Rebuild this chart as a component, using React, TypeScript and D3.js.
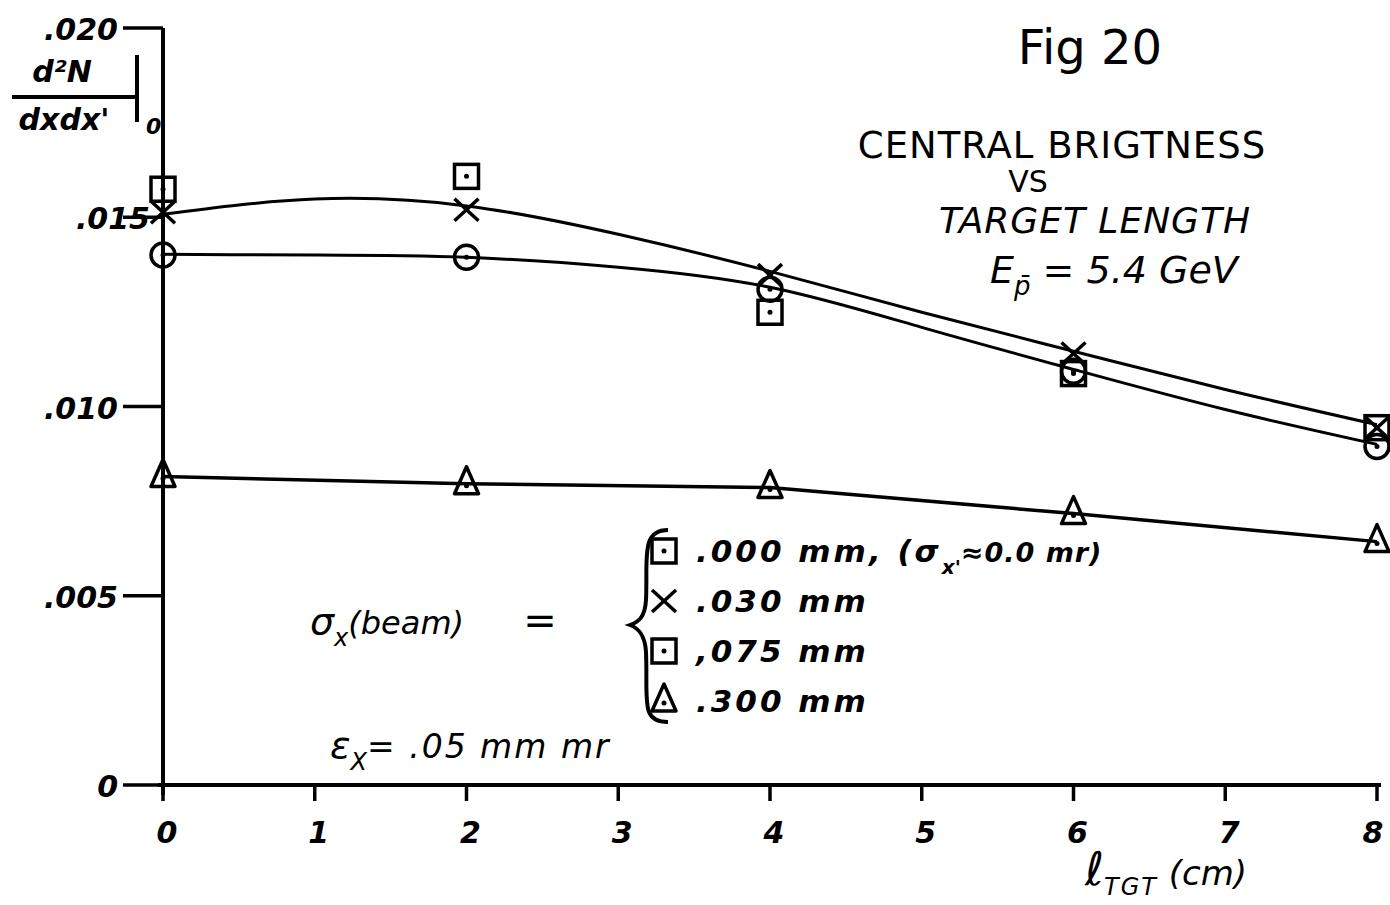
import * as d3 from "d3";

// x positions (target length, cm)
const lengths = [0, 2, 4, 6, 8];

// measured points per beam size
const circleVals = [0.0140, 0.01394, 0.0131, 0.01093, 0.00894]; // .000 mm
const crossVals = [0.01513, 0.0152, 0.01347, 0.0114, 0.00944]; // .030 mm
const squareVals = [0.01574, 0.01608, 0.01249, 0.01087, 0.00944]; // .075 mm
const triVals = [0.00815, 0.00796, 0.00786, 0.00717, 0.00643]; // .300 mm

// hand drawn fit curves, read at each cm
const fitX = [0, 1, 2, 3, 4, 5, 6, 7, 8];
const fitUpper = [0.01508, 0.01548, 0.0153, 0.01455, 0.01357, 0.01249, 0.01146, 0.01045, 0.00952];
const fitLower = [0.01402, 0.0140, 0.01394, 0.01368, 0.01315, 0.01209, 0.01098, 0.00992, 0.0090];

const xTicks = [0, 1, 2, 3, 4, 5, 6, 7, 8];
const yTicks = [0, 0.005, 0.01, 0.015, 0.02];
const yTickLabels = ["0", ".005", ".010", ".015", ".020"];

const legendItems = [
  { sym: "square", text: ".000  mm, (σ", sub: "x'", rest: "≈0.0 mr)" },
  { sym: "cross", text: ".030  mm", sub: "", rest: "" },
  { sym: "square", text: ",075  mm", sub: "", rest: "" },
  { sym: "tri", text: ".300  mm", sub: "", rest: "" },
];

const W = 1390;
const H = 905;
const ink = "#000";
const font = "'DejaVu Sans', sans-serif";

function Marker({ type, cx, cy }: { type: string; cx: number; cy: number }) {
  const sw = 3.5;
  if (type === "square")
    return (
      <g>
        <rect x={cx - 12} y={cy - 12} width={24} height={24} fill="none" stroke={ink} strokeWidth={sw} />
        <circle cx={cx} cy={cy} r={2.5} fill={ink} />
      </g>
    );
  if (type === "circle")
    return (
      <g>
        <circle cx={cx} cy={cy} r={12} fill="none" stroke={ink} strokeWidth={sw} />
        <circle cx={cx} cy={cy} r={2.5} fill={ink} />
      </g>
    );
  if (type === "cross")
    return (
      <g stroke={ink} strokeWidth={sw}>
        <line x1={cx - 12} y1={cy - 11} x2={cx + 12} y2={cy + 11} />
        <line x1={cx - 12} y1={cy + 11} x2={cx + 12} y2={cy - 11} />
      </g>
    );
  return (
    <g>
      <path d={`M${cx},${cy - 17}L${cx - 12},${cy + 10}L${cx + 12},${cy + 10}Z`} fill="none" stroke={ink} strokeWidth={sw} strokeLinejoin="round" />
      <circle cx={cx} cy={cy + 2} r={2.5} fill={ink} />
    </g>
  );
}

export default function App() {
  const x = d3.scaleLinear().domain([0, 8]).range([163, 1377]);
  const y = d3.scaleLinear().domain([0, 0.02]).range([785, 28]);

  const fitLine = d3
    .line<number>()
    .x((_, i) => x(fitX[i]))
    .y((d) => y(d))
    .curve(d3.curveNatural);
  const triLine = d3
    .line<number>()
    .x((_, i) => x(lengths[i]))
    .y((d) => y(d));

  const series = [
    { type: "triangle", vals: triVals },
    { type: "circle", vals: circleVals },
    { type: "square", vals: squareVals },
    { type: "cross", vals: crossVals },
  ];

  return (
    <svg width={W} height={H} style={{ position: "absolute", left: 0, top: 0, background: "#fff" }} fontFamily={font}>
      {/* fit curves */}
      <path d={fitLine(fitUpper) ?? ""} fill="none" stroke={ink} strokeWidth={3} />
      <path d={fitLine(fitLower) ?? ""} fill="none" stroke={ink} strokeWidth={3} />
      <path d={triLine(triVals) ?? ""} fill="none" stroke={ink} strokeWidth={3.5} />

      {/* axes */}
      <line x1={x(0)} y1={y(0.02)} x2={x(0)} y2={y(0) + 10} stroke={ink} strokeWidth={4} />
      <line x1={x(0) - 5} y1={y(0)} x2={x(8) + 4} y2={y(0)} stroke={ink} strokeWidth={4} />
      {yTicks.map((t, i) => (
        <g key={t}>
          <line x1={x(0) - 40} y1={y(t)} x2={x(0)} y2={y(t)} stroke={ink} strokeWidth={3.5} />
          <text x={i === 3 ? 150 : 118} y={y(t) + 12} textAnchor="end" fontSize={30} fontStyle="italic" fontWeight="bold">
            {yTickLabels[i]}
          </text>
        </g>
      ))}
      {xTicks.map((t) => (
        <g key={t}>
          <line x1={x(t)} y1={y(0)} x2={x(t)} y2={y(0) + 16} stroke={ink} strokeWidth={3.5} />
          <text x={t === 8 ? x(t) - 4 : x(t) + 4} y={y(0) + 58} textAnchor="middle" fontSize={30} fontStyle="italic" fontWeight="bold">
            {t}
          </text>
        </g>
      ))}

      {/* markers */}
      {series.map((s) =>
        s.vals.map((v, i) => <Marker key={s.type + i} type={s.type} cx={x(lengths[i])} cy={y(v)} />)
      )}

      {/* y label */}
      <text x={62} y={82} textAnchor="middle" fontSize={30} fontStyle="italic" fontWeight="bold">
        d²N
      </text>
      <line x1={12} y1={97} x2={135} y2={97} stroke={ink} strokeWidth={4} />
      <text x={64} y={130} textAnchor="middle" fontSize={30} fontStyle="italic" fontWeight="bold">
        dxdx'
      </text>
      <line x1={137} y1={55} x2={137} y2={122} stroke={ink} strokeWidth={4} />
      <text x={146} y={134} fontSize={22} fontStyle="italic" fontWeight="bold">0</text>

      {/* title block */}
      <text x={1090} y={64} textAnchor="middle" fontSize={48}>Fig 20</text>
      <text x={1062} y={158} textAnchor="middle" fontSize={37} letterSpacing={1}>CENTRAL BRIGTNESS</text>
      <text x={1028} y={192} textAnchor="middle" fontSize={30}>VS</text>
      <text x={1095} y={233} textAnchor="middle" fontSize={36} fontStyle="italic" letterSpacing={1}>TARGET LENGTH</text>
      <text x={990} y={283} fontSize={38} fontStyle="italic">
        E<tspan fontSize={26} dy={12}>p̄</tspan>
        <tspan dy={-12}> = 5.4 GeV</tspan>
      </text>

      {/* legend */}
      <text x={310} y={634} fontSize={38} fontStyle="italic">
        σ<tspan fontSize={24} dy={12}>x</tspan>
        <tspan dy={-12} fontSize={32}>(beam)</tspan>
      </text>
      <text x={540} y={634} textAnchor="middle" fontSize={40}>=</text>
      <path d="M668,530 C640,530 648,560 646,600 C645,618 638,622 630,625 C638,628 645,634 646,652 C648,700 640,722 668,722" fill="none" stroke={ink} strokeWidth={4} />
      {legendItems.map((d, i) => {
        const cy = 551 + i * 50;
        return (
          <g key={i}>
            <Marker type={d.sym} cx={664} cy={cy} />
            <text x={696} y={cy + 11} fontSize={31} fontStyle="italic" fontWeight="bold" letterSpacing={3}>
              {d.text}
              {d.sub && (
                <tspan fontSize={20} dy={12} letterSpacing={0}>
                  {d.sub}
                </tspan>
              )}
              {d.rest && (
                <tspan dy={-12} fontSize={27} letterSpacing={1}>
                  {d.rest}
                </tspan>
              )}
            </text>
          </g>
        );
      })}
      <text x={330} y={758} fontSize={38} fontStyle="italic">
        ε<tspan fontSize={24} dy={12}>X</tspan>
        <tspan dy={-12} fontSize={33} letterSpacing={2}>= .05 mm mr</tspan>
      </text>

      {/* x label */}
      <text x={1085} y={885} fontSize={46} fontStyle="italic">
        ℓ<tspan fontSize={24} dy={10} letterSpacing={2}>TGT</tspan>
        <tspan dy={-10} fontSize={34}> (cm)</tspan>
      </text>
    </svg>
  );
}
